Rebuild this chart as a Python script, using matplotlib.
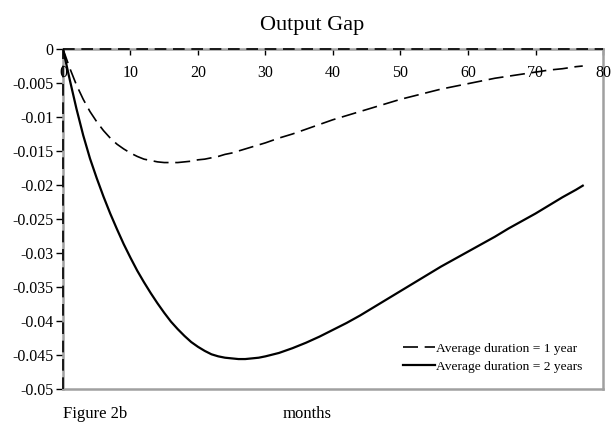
import matplotlib
matplotlib.use("Agg")
import matplotlib.pyplot as plt

plt.rcParams['font.family'] = ['Liberation Serif', 'DejaVu Serif']

# months after the shock
months = list(range(0, 31)) + list(range(32, 77, 2)) + [77]

# output gap, average duration = 1 year
gap_1y = [0, -0.0028, -0.0053, -0.0074, -0.0092, -0.0107, -0.0120, -0.0131,
          -0.0140, -0.0147, -0.0153, -0.0158, -0.0162, -0.0164, -0.0166,
          -0.0167, -0.0167, -0.0167, -0.0166, -0.0165, -0.0163, -0.0162,
          -0.0160, -0.0158, -0.0155, -0.0153, -0.0150, -0.0147, -0.0144,
          -0.0141, -0.0138,
          -0.0131, -0.0125, -0.0118, -0.0111, -0.0104, -0.0098, -0.0092,
          -0.0086, -0.0080, -0.0074, -0.0069, -0.0064, -0.0059, -0.0055,
          -0.0051, -0.0047, -0.0043, -0.0040, -0.0037, -0.0034, -0.0031,
          -0.0029, -0.0026, -0.0025]

# output gap, average duration = 2 years
gap_2y = [0, -0.0045, -0.0088, -0.0127, -0.0161, -0.0190, -0.0217, -0.0242,
          -0.0265, -0.0287, -0.0307, -0.0326, -0.0343, -0.0359, -0.0374,
          -0.0388, -0.0401, -0.0412, -0.0422, -0.0431, -0.0438, -0.0444,
          -0.0449, -0.0452, -0.0454, -0.0455, -0.0456, -0.0456, -0.0455,
          -0.0454, -0.0452,
          -0.0447, -0.0440, -0.0432, -0.0423, -0.0413, -0.0403, -0.0392,
          -0.0380, -0.0368, -0.0356, -0.0344, -0.0332, -0.0320, -0.0309,
          -0.0298, -0.0287, -0.0276, -0.0264, -0.0253, -0.0242, -0.0230,
          -0.0218, -0.0207, -0.0201]

x_ticks = [0, 10, 20, 30, 40, 50, 60, 70, 80]
y_ticks = [0, -0.005, -0.01, -0.015, -0.02, -0.025, -0.03, -0.035, -0.04, -0.045, -0.05]
y_labels = ['0', '-0.005', '-0.01', '-0.015', '-0.02', '-0.025', '-0.03',
            '-0.035', '-0.04', '-0.045', '-0.05']

fig = plt.figure(figsize=(6.12, 4.26), dpi=100)
ax = fig.add_axes([0.1029, 0.0869, 0.8824, 0.7981])

ax.plot(months, gap_1y, color='black', lw=1.2, dashes=(9, 4),
        label='Average duration = 1 year', zorder=3)
ax.plot(months, gap_2y, color='black', lw=1.6,
        label='Average duration = 2 years', zorder=3)

ax.set_xlim(0, 80)
ax.set_ylim(-0.05, 0)

for s in ax.spines.values():
    s.set_color('#a0a0a0')
    s.set_linewidth(1.8)

# dashed axis lines on top of the frame
ax.axhline(0, color='black', lw=1.2, dashes=(7, 4), zorder=4, clip_on=False)
ax.axvline(0, color='black', lw=1.2, dashes=(7, 4), zorder=4, clip_on=False)

ax.set_yticks(y_ticks)
ax.set_yticklabels(y_labels)
ax.tick_params(axis='y', direction='out', length=5, width=1, color='black',
               labelsize=11.5, pad=2)

ax.set_xticks(x_ticks)
ax.tick_params(axis='x', bottom=False, labelbottom=False, top=True,
               labeltop=False, direction='in', length=4, width=1, color='black')
for xv in x_ticks:
    ax.text(xv, -0.0036, str(xv), ha='center', va='center', fontsize=11.5,
            zorder=5)

leg = ax.legend(loc='lower right', bbox_to_anchor=(0.985, 0.012), frameon=False,
                fontsize=9.7, handlelength=2.4, handletextpad=0.1,
                labelspacing=0.4)

fig.text(0.51, 0.94, 'Output Gap', ha='center', va='center', fontsize=16)
fig.text(0.502, 0.027, 'months', ha='center', va='center', fontsize=12)
fig.text(0.103, 0.027, 'Figure 2b', ha='left', va='center', fontsize=12)

fig.savefig('out.png', dpi=100)
